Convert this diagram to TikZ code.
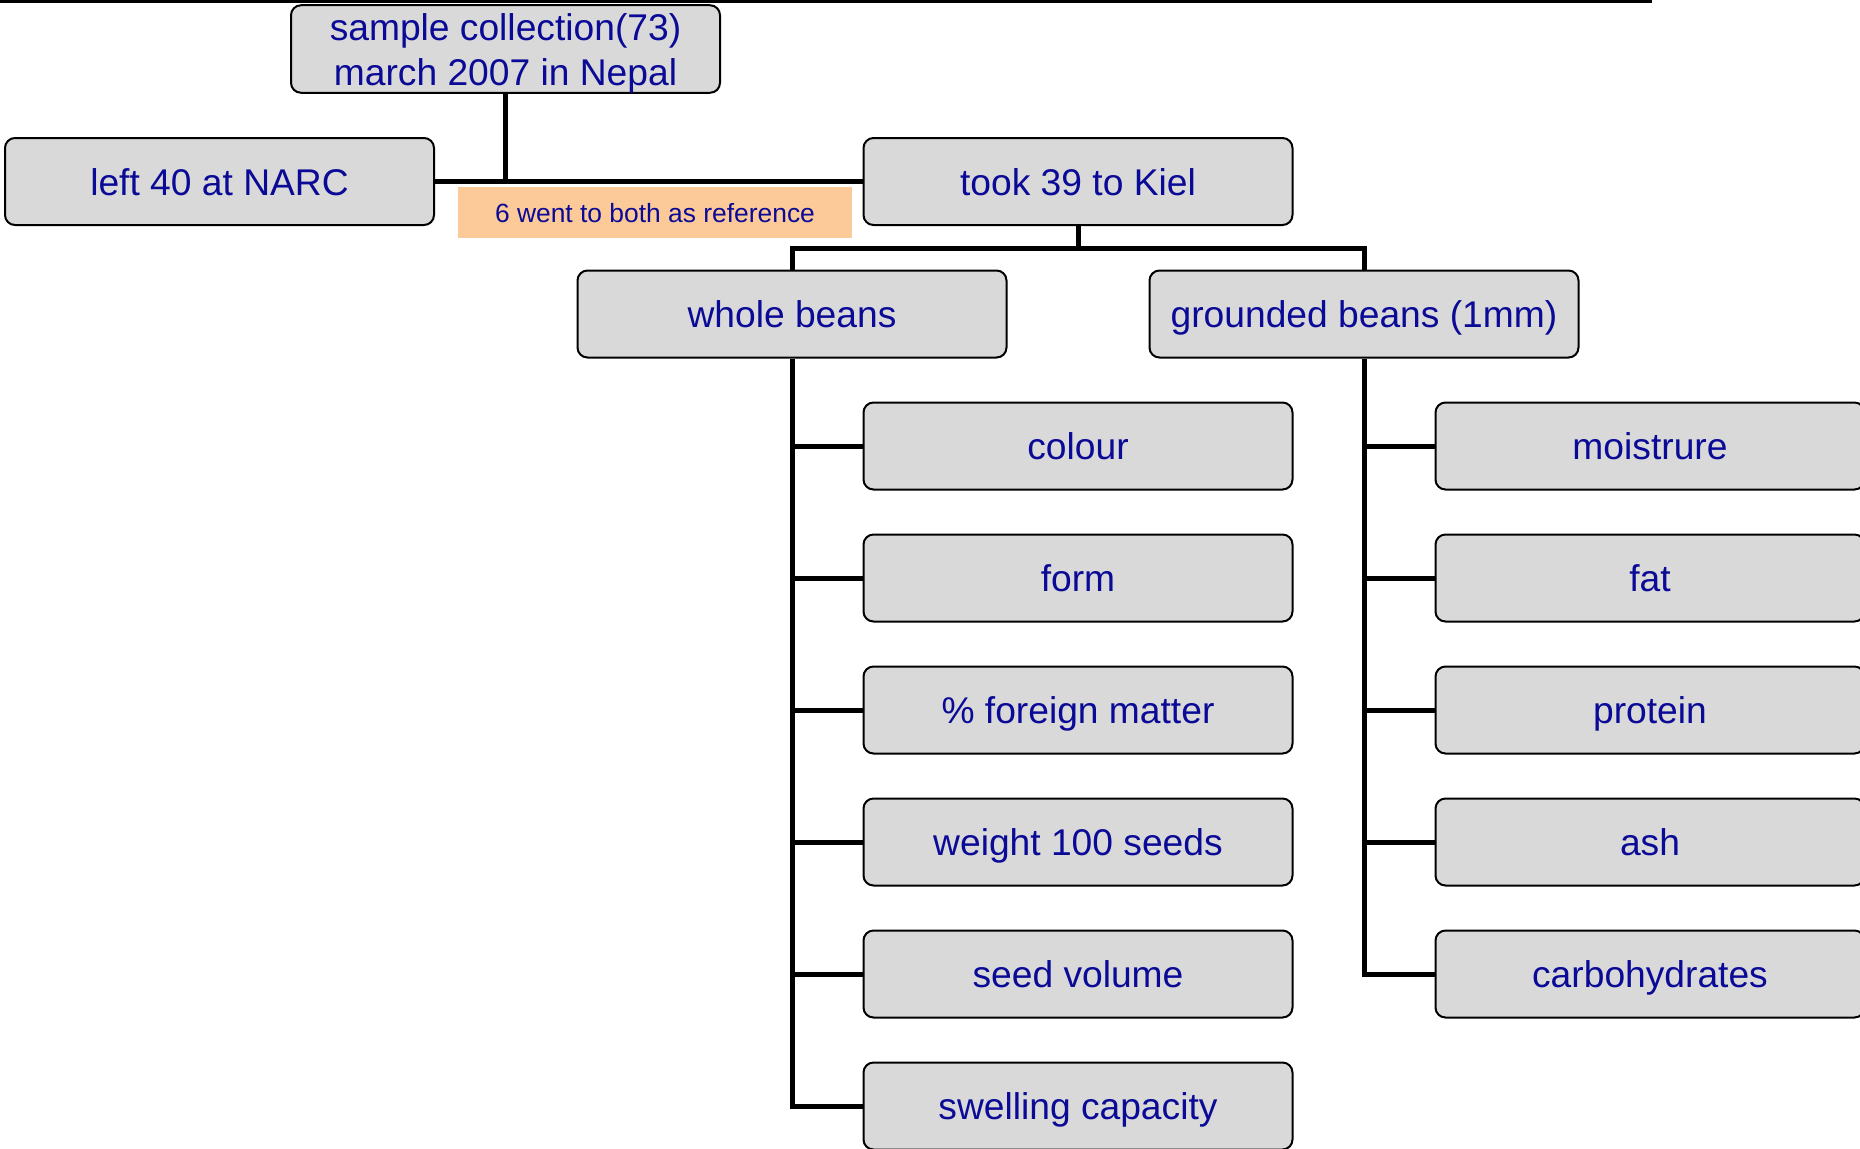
\documentclass[tikz,border=0pt]{standalone}
\usepackage{fontspec}
\setmainfont{Liberation Sans}
\definecolor{txt}{RGB}{10,10,150}
\definecolor{boxgray}{RGB}{217,217,217}
\definecolor{peach}{RGB}{252,202,152}
\begin{document}
\begin{tikzpicture}[x=0.5pt,y=-0.5pt,
  basebox/.style={draw=black, line width=1pt, rounded corners=5pt, fill=boxgray,
    minimum width=214.5pt, minimum height=43.5pt, inner sep=0pt, text=txt,
    font=\fontsize{18.6}{22.5}\selectfont, align=center},
  box/.style={basebox, text height=13.6pt, text depth=0pt},
  note/.style={fill=peach, minimum width=197pt, minimum height=25.5pt, inner sep=0pt,
    text=txt, font=\fontsize{13.2}{15}\selectfont, text height=9.6pt, text depth=0pt},
  conn/.style={line width=2.5pt, draw=black}]
\path[use as bounding box, clip] (0,0) rectangle (1860,1148);
\fill[white] (0,0) rectangle (1860,1148);
% top rule
\coordinate (ruleA) at (0,1.5);
\coordinate (ruleB) at (1652,1.5);
\draw[line width=1.5pt] (ruleA) -- (ruleB);
% nodes
\node[basebox] (top) at (505.5,49) {\rule{0pt}{17.4pt}sample collection(73)\\march 2007 in Nepal};
\node[box] (left) at (219.5,181.5) {left 40 at NARC};
\node[box] (took) at (1078,181.5) {took 39 to Kiel};
\node[note] (ref) at (655,212.5) {6 went to both as reference};
\node[box] (whole) at (792,314) {whole beans};
\node[box] (ground) at (1364,314) {grounded beans (1mm)};
\node[box] (w1) at (1078,446) {colour};
\node[box] (w2) at (1078,578) {form};
\node[box] (w3) at (1078,710) {\% foreign matter};
\node[box] (w4) at (1078,842) {weight 100 seeds};
\node[box] (w5) at (1078,974) {seed volume};
\node[box] (w6) at (1078,1106) {swelling capacity};
\node[box] (g1) at (1650,446) {moistrure};
\node[box] (g2) at (1650,578) {fat};
\node[box] (g3) at (1650,710) {protein};
\node[box] (g4) at (1650,842) {ash};
\node[box] (g5) at (1650,974) {carbohydrates};
% connectors
\draw[conn] (left.east) -- (took.west);
\draw[conn] (top.south) -- (top.south |- left.east);
\draw[conn] (took.south) -- ++(0,22) coordinate (tj);
\draw[conn] (whole.north) |- (tj) -| (ground.north);
\draw[conn] (whole.south) |- (w6.west);
\foreach \n in {w1,w2,w3,w4,w5}
  \draw[conn] (whole.south |- \n.west) -- (\n.west);
\draw[conn] (ground.south) |- (g5.west);
\foreach \n in {g1,g2,g3,g4}
  \draw[conn] (ground.south |- \n.west) -- (\n.west);
\end{tikzpicture}
\end{document}
